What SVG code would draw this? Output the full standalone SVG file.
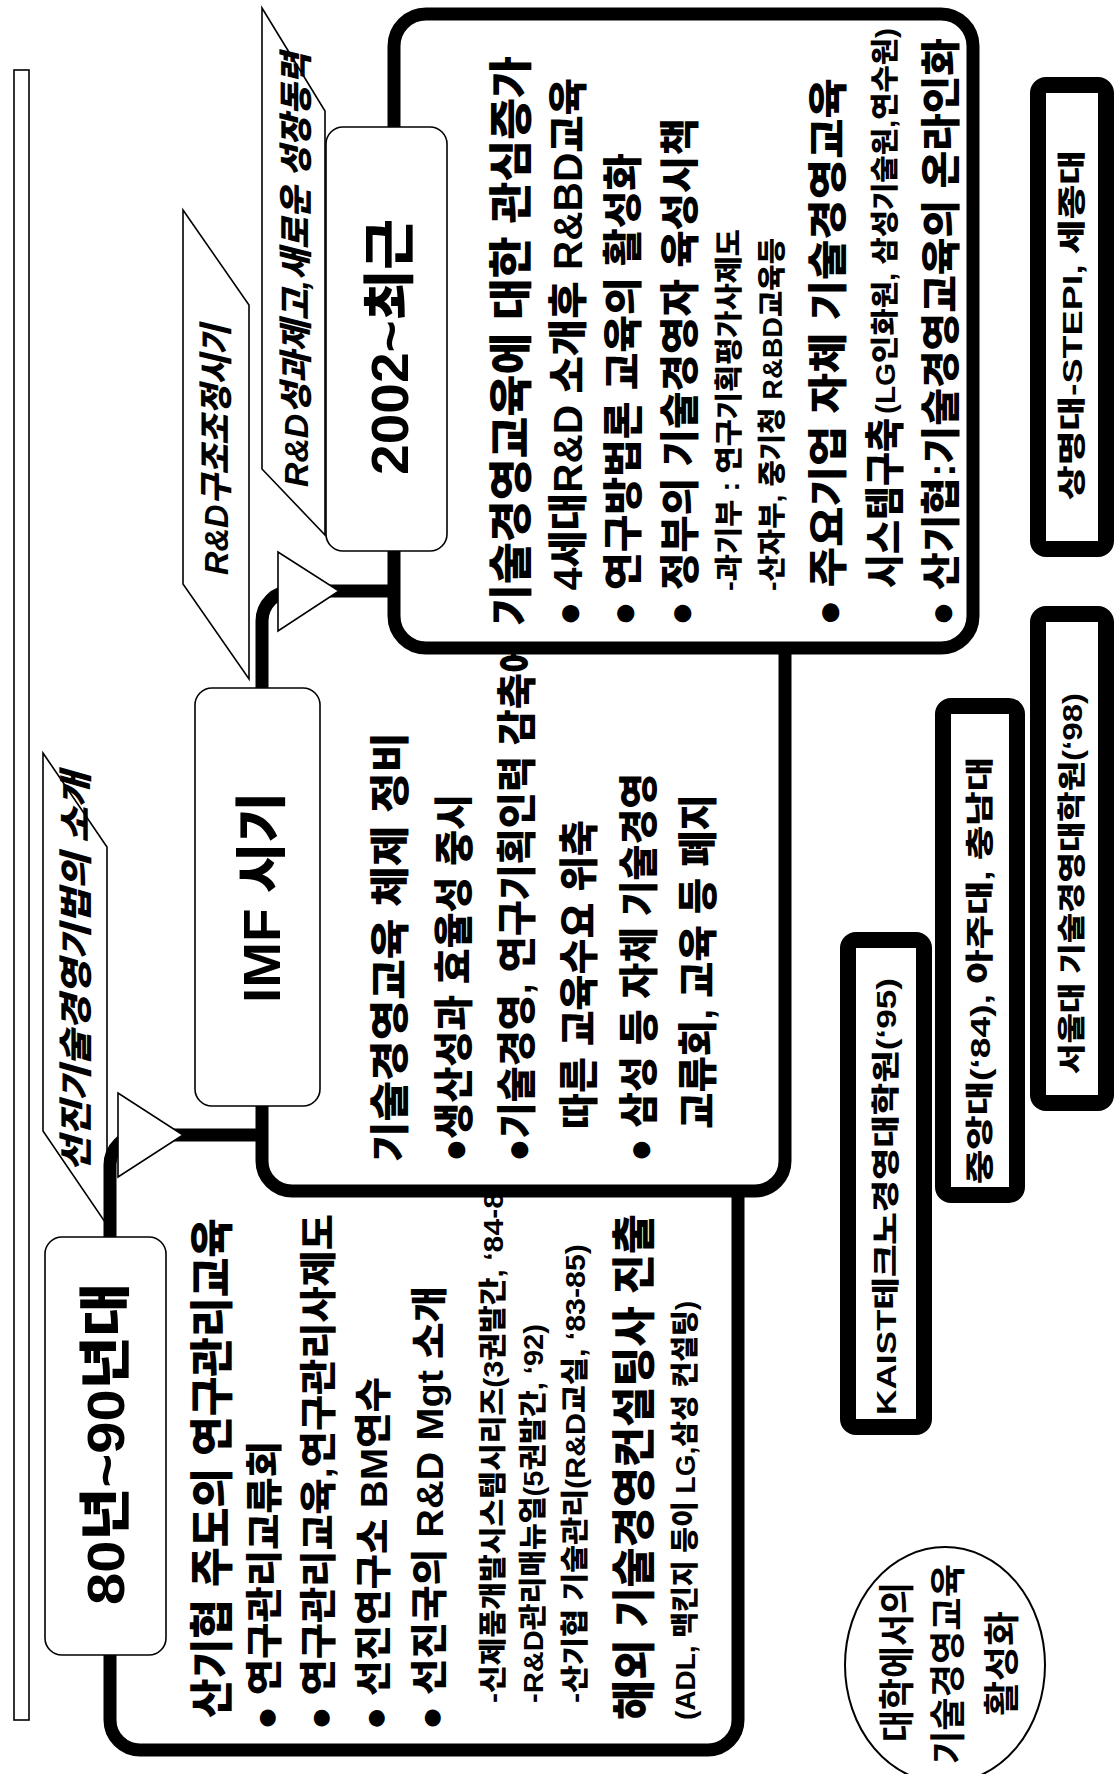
<svg xmlns="http://www.w3.org/2000/svg" width="1120" height="1774" viewBox="0 0 1120 1774">
<style>
.bx{fill:none;stroke:#000;stroke-width:13;stroke-linejoin:round}
.fillw{fill:#fff;stroke:none}
.lbl{fill:#fff;stroke:#000;stroke-width:1.6}
.frm{fill:#fff;stroke:#000;stroke-width:16}
text{font-family:"Liberation Sans","Noto Sans CJK KR",sans-serif;font-weight:900;fill:#000;dominant-baseline:central}
.t48{font-size:52px}.h{font-size:44px}.m{font-size:40px}.b{font-size:37px}.s{font-size:28px}.r{font-size:28px}
.it{font-size:34px;font-style:italic}
.c{font-size:36px;font-weight:700}
</style>
<rect x="14" y="70" width="15" height="1650" class="lbl"/>

<g id="label-p1">
<polygon points="43,753 107,847 107,1225 43,1131" class="lbl"/>
<text class="it" x="76" y="1172" transform="rotate(-90 76 1172)" textLength="400" lengthAdjust="spacingAndGlyphs">선진기술경영기법의 소개</text>
</g>
<g id="label-p2">
<polygon points="183,210 249,305 249,679 183,584" class="lbl"/>
<text class="it" x="216" y="575" transform="rotate(-90 216 575)" textLength="250" lengthAdjust="spacingAndGlyphs">R&amp;D구조조정시기</text>
</g>
<g id="label-p3">
<polygon points="262,8 325,111 325,535 262,469" class="lbl"/>
<text class="it" x="296" y="487" transform="rotate(-90 296 487)" textLength="434" lengthAdjust="spacingAndGlyphs">R&amp;D성과제고,새로운 성장동력</text>
</g>

<g id="node-80s">
<path class="bx" d="M110,1237 L110,1720 A30,30 0 0 0 140,1750 L708,1750 A30,30 0 0 0 738,1720 L738,1191"/>
<rect x="45" y="1237" width="121" height="418" rx="17" class="lbl"/>
<text class="t48" x="106" y="1605" transform="rotate(-90 106 1605)" textLength="322" lengthAdjust="spacingAndGlyphs">80년~90년대</text>
<text class="h" x="212" y="1718" transform="rotate(-90 212 1718)" textLength="500" lengthAdjust="spacingAndGlyphs">산기협 주도의 연구관리교육</text>
<text class="b" x="265" y="1730" transform="rotate(-90 265 1730)" textLength="289" lengthAdjust="spacingAndGlyphs">● 연구관리교류회</text>
<text class="b" x="319" y="1730" transform="rotate(-90 319 1730)" textLength="516" lengthAdjust="spacingAndGlyphs">● 연구관리교육,연구관리사제도</text>
<text class="b" x="374" y="1730" transform="rotate(-90 374 1730)" textLength="353" lengthAdjust="spacingAndGlyphs">● 선진연구소 BM연수</text>
<text class="b" x="430" y="1730" transform="rotate(-90 430 1730)" textLength="444" lengthAdjust="spacingAndGlyphs">● 선진국의 R&amp;D Mgt 소개</text>
<text class="s" x="493" y="1703" transform="rotate(-90 493 1703)" textLength="511" lengthAdjust="spacingAndGlyphs">-신제품개발시스템시리즈(3권발간, ‘84-8</text>
<text class="s" x="533" y="1703" transform="rotate(-90 533 1703)" textLength="379" lengthAdjust="spacingAndGlyphs">-R&amp;D관리매뉴얼(5권발간, ‘92)</text>
<text class="s" x="575" y="1703" transform="rotate(-90 575 1703)" textLength="459" lengthAdjust="spacingAndGlyphs">-산기협 기술관리(R&amp;D교실, ‘83-85)</text>
<text class="h" x="634" y="1720" transform="rotate(-90 634 1720)" textLength="506" lengthAdjust="spacingAndGlyphs">해외 기술경영컨설팅사 진출</text>
<text class="s" x="685" y="1720" transform="rotate(-90 685 1720)" textLength="419" lengthAdjust="spacingAndGlyphs">(ADL, 맥킨지 등이 LG,삼성 컨설팅)</text>
</g>

<g id="node-imf">
<path class="fillw" d="M262,640 L262,1161 A30,30 0 0 0 292,1191 L755,1191 A30,30 0 0 0 785,1161 L785,640 Z"/>
<path class="bx" d="M262,688 L262,1161 A30,30 0 0 0 292,1191 L755,1191 A30,30 0 0 0 785,1161 L785,648"/>
<rect x="195" y="688" width="125" height="418" rx="17" class="lbl"/>
<text class="t48" x="262" y="1003" transform="rotate(-90 262 1003)" textLength="211" lengthAdjust="spacingAndGlyphs">IMF 시기</text>
<text class="m" x="390" y="1162" transform="rotate(-90 390 1162)" textLength="430" lengthAdjust="spacingAndGlyphs">기술경영교육 체제 정비</text>
<text class="m" x="454" y="1162" transform="rotate(-90 454 1162)" textLength="368" lengthAdjust="spacingAndGlyphs">●생산성과 효율성 중시</text>
<text class="m" x="517" y="1162" transform="rotate(-90 517 1162)" textLength="525" lengthAdjust="spacingAndGlyphs">●기술경영, 연구기획인력 감축에</text>
<text class="m" x="579" y="1129" transform="rotate(-90 579 1129)" textLength="309" lengthAdjust="spacingAndGlyphs">따른 교육수요 위축</text>
<text class="m" x="639" y="1162" transform="rotate(-90 639 1162)" textLength="389" lengthAdjust="spacingAndGlyphs">● 삼성 등 자체 기술경영</text>
<text class="m" x="698" y="1129" transform="rotate(-90 698 1129)" textLength="335" lengthAdjust="spacingAndGlyphs">교류회, 교육 등 폐지</text>
</g>

<g id="node-2002">
<rect x="394" y="14" width="579" height="634" rx="32" fill="#fff" stroke="#000" stroke-width="13"/>
<rect x="326" y="127" width="121" height="424" rx="17" class="lbl"/>
<text class="t48" x="390" y="475" transform="rotate(-90 390 475)" textLength="256" lengthAdjust="spacingAndGlyphs">2002~최근</text>
<text class="h" x="511" y="626" transform="rotate(-90 511 626)" textLength="570" lengthAdjust="spacingAndGlyphs">기술경영교육에 대한 관심증가</text>
<text class="m" x="568" y="626" transform="rotate(-90 568 626)" textLength="548" lengthAdjust="spacingAndGlyphs">● 4세대R&amp;D 소개후 R&amp;BD교육</text>
<text class="m" x="623" y="626" transform="rotate(-90 623 626)" textLength="473" lengthAdjust="spacingAndGlyphs">● 연구방법론 교육의 활성화</text>
<text class="m" x="680" y="626" transform="rotate(-90 680 626)" textLength="508" lengthAdjust="spacingAndGlyphs">● 정부의 기술경영자 육성시책</text>
<text class="s" x="729" y="591" transform="rotate(-90 729 591)" textLength="362" lengthAdjust="spacingAndGlyphs">-과기부 : 연구기획평가사제도</text>
<text class="s" x="772" y="591" transform="rotate(-90 772 591)" textLength="353" lengthAdjust="spacingAndGlyphs">-산자부, 중기청 R&amp;BD교육등</text>
<text class="m" x="828" y="626" transform="rotate(-90 828 626)" textLength="548" lengthAdjust="spacingAndGlyphs">● 주요기업 자체 기술경영교육</text>
<text class="m" x="885" y="588" transform="rotate(-90 885 588)" textLength="170" lengthAdjust="spacingAndGlyphs">시스템구축</text>
<text class="s" x="885" y="414" transform="rotate(-90 885 414)" textLength="386" lengthAdjust="spacingAndGlyphs">(LG인화원, 삼성기술원,연수원)</text>
<text class="m" x="941" y="626" transform="rotate(-90 941 626)" textLength="588" lengthAdjust="spacingAndGlyphs">● 산기협:기술경영교육의 온라인화</text>
</g>

<g id="node-stepi">
<rect x="1038" y="85" width="68" height="464" rx="8" class="frm"/>
<text class="r" x="1072" y="500" transform="rotate(-90 1072 500)" textLength="350" lengthAdjust="spacingAndGlyphs">상명대-STEPI, 세종대</text>
</g>
<g id="node-snu">
<rect x="1038" y="614" width="68" height="489" rx="8" class="frm"/>
<text class="r" x="1072" y="1074" transform="rotate(-90 1072 1074)" textLength="381" lengthAdjust="spacingAndGlyphs">서울대 기술경영대학원(‘98)</text>
</g>
<g id="node-cau">
<rect x="943" y="706" width="74" height="489" rx="8" class="frm"/>
<text class="r" x="980" y="1184" transform="rotate(-90 980 1184)" textLength="427" lengthAdjust="spacingAndGlyphs">중앙대(‘84), 아주대, 충남대</text>
</g>
<g id="node-kaist">
<rect x="848" y="940" width="76" height="487" rx="8" class="frm"/>
<text class="r" x="886" y="1415" transform="rotate(-90 886 1415)" textLength="437" lengthAdjust="spacingAndGlyphs">KAIST테크노경영대학원(‘95)</text>
</g>
<g id="node-circle">
<ellipse cx="945" cy="1665" rx="100" ry="118" fill="#fff" stroke="#000" stroke-width="2"/>
<text class="c" x="897" y="1742" transform="rotate(-90 897 1742)" textLength="160" lengthAdjust="spacingAndGlyphs">대학에서의</text>
<text class="c" x="948" y="1764" transform="rotate(-90 948 1764)" textLength="200" lengthAdjust="spacingAndGlyphs">기술경영교육</text>
<text class="c" x="1002" y="1716" transform="rotate(-90 1002 1716)" textLength="105" lengthAdjust="spacingAndGlyphs">활성화</text>
</g>

<g id="connectors">
<path class="bx" d="M110,1237 L110,1165 A30,30 0 0 1 140,1135 L262,1135"/>
<polygon points="118,1093 118,1177 183,1135" class="lbl"/>
<path class="bx" d="M262,688 L262,621 A30,30 0 0 1 292,591 L394,591"/>
<polygon points="278,552 278,631 339,591" class="lbl"/>
</g>
</svg>
